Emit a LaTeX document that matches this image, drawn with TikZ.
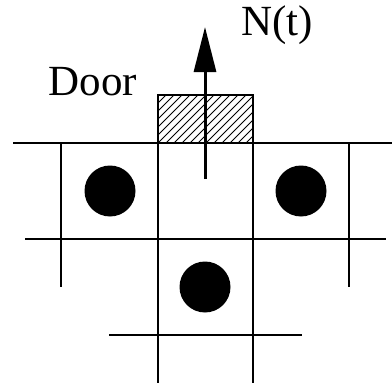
\documentclass[tikz,border=0pt]{standalone}
\usepackage{fontspec}
\setmainfont{Liberation Serif}
\usetikzlibrary{arrows.meta}
\begin{document}
\begin{tikzpicture}[x=1pt,y=-1pt,
  wall/.style={line width=1.7pt},
  dot/.style={circle,fill=black,minimum size=51pt,inner sep=0pt},
  lbl/.style={inner sep=0pt,font=\fontsize{43}{45}\selectfont}]
\useasboundingbox (0,0) rectangle (392,388);
% door hatch
\begin{scope}
\clip (158,95) rectangle (253,143);
\foreach \i in {-8,0,...,160}{
  \draw[line width=1pt] (158+\i-48,143) -- (158+\i,95);
}
\end{scope}
\node[draw,wall,minimum width=95pt,minimum height=48pt,inner sep=0pt] (door) at (205.5,119) {};
% grid lines
\coordinate (h1a) at (13,143); \coordinate (h1b) at (392,143);
\coordinate (h2a) at (25,239); \coordinate (h2b) at (386,239);
\coordinate (h3a) at (109,335); \coordinate (h3b) at (302,335);
\coordinate (v1a) at (61,143); \coordinate (v1b) at (61,287);
\coordinate (v2a) at (158,143); \coordinate (v2b) at (158,383);
\coordinate (v3a) at (253,143); \coordinate (v3b) at (253,383);
\coordinate (v4a) at (349,143); \coordinate (v4b) at (349,287);
\draw[wall] (h1a) -- (h1b);
\draw[wall] (h2a) -- (h2b);
\draw[wall] (h3a) -- (h3b);
\draw[wall] (v1a) -- (v1b);
\draw[wall] (v2a) -- (v2b);
\draw[wall] (v3a) -- (v3b);
\draw[wall] (v4a) -- (v4b);
% dots
\node[dot] (d1) at (110,191) {};
\node[dot] (d2) at (301,191) {};
\node[dot] (d3) at (205,287) {};
% arrow
\coordinate (as) at (205,179);
\coordinate (ae) at (205,27);
\draw[line width=3pt,-{Triangle[length=45pt,width=22pt]}] (as) -- (ae);
% labels
\node[lbl] (nt) at (277,25) {N(t)};
\node[lbl] (doorlbl) at (93,82) {Door};
\end{tikzpicture}
\end{document}
